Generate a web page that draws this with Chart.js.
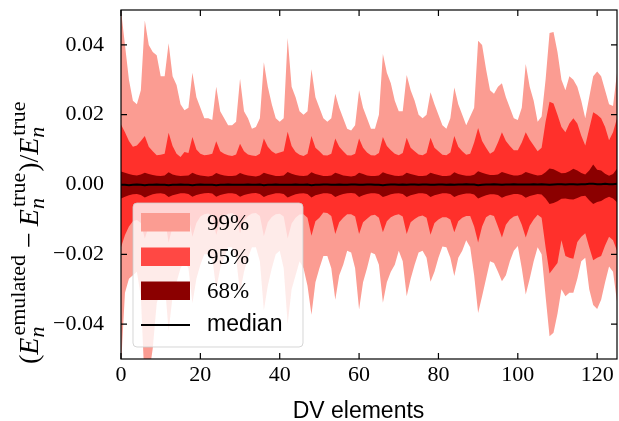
<!DOCTYPE html>
<html>
<head>
<meta charset="utf-8">
<script src="https://cdn.jsdelivr.net/npm/chart.js@4.4.0/dist/chart.umd.min.js"></script>
<style>
  html, body { margin: 0; padding: 0; background: #fff; }
  #wrap { position: relative; width: 619px; height: 421px; }
</style>
</head>
<body>
<div id="wrap"><canvas id="chart" width="619" height="421"></canvas></div>
<script>
// DV element index (x axis)
const dvIndex = Array.from({ length: 126 }, (_, i) => i);

const xTicks = [0, 20, 40, 60, 80, 100, 120];
const yTicks = [-0.04, -0.02, 0, 0.02, 0.04];

// upper / lower edges of the 99%, 95%, 68% bands and the median
const up99 = [
  0.050, 0.040, 0.030, 0.024, 0.023, 0.027, 0.047, 0.040, 0.038, 0.037, 0.031, 0.031,
  0.0405, 0.031, 0.0285, 0.023, 0.0213, 0.022,
  0.032, 0.025, 0.022, 0.019, 0.019, 0.0185,
  0.028, 0.021, 0.019, 0.017, 0.017, 0.018,
  0.0303, 0.021, 0.019, 0.016, 0.0165, 0.019,
  0.035, 0.028, 0.023, 0.019, 0.018, 0.019,
  0.042, 0.028, 0.025, 0.021, 0.020, 0.021,
  0.033, 0.025, 0.022, 0.019, 0.018, 0.019,
  0.026, 0.022, 0.019, 0.016, 0.0155, 0.017,
  0.027, 0.022, 0.019, 0.016, 0.016, 0.020,
  0.0374, 0.032, 0.029, 0.024, 0.021, 0.021,
  0.0314, 0.027, 0.024, 0.020, 0.019, 0.020,
  0.0264, 0.023, 0.020, 0.017, 0.016, 0.019,
  0.0278, 0.023, 0.020, 0.017, 0.0195, 0.022,
  0.0412, 0.040, 0.033, 0.027, 0.026, 0.028,
  0.029, 0.025, 0.022, 0.019, 0.0185, 0.022,
  0.0345, 0.028, 0.024, 0.018, 0.0195, 0.030,
  0.0434, 0.0437, 0.038, 0.030, 0.027, 0.031,
  0.030, 0.028, 0.024, 0.019, 0.025, 0.031,
  0.0324, 0.031, 0.027, 0.023, 0.0225, 0.032
];
const up95 = [
  0.0172, 0.0150, 0.0125, 0.0108, 0.0112, 0.0125, 0.0139, 0.0108, 0.0095, 0.0084, 0.0085, 0.0088,
  0.0148, 0.0110, 0.0088, 0.0079, 0.0093, 0.0090,
  0.0136, 0.0100, 0.0088, 0.0084, 0.0085, 0.0088,
  0.0124, 0.0095, 0.0088, 0.0084, 0.0082, 0.0086,
  0.0117, 0.0095, 0.0086, 0.0083, 0.0082, 0.0088,
  0.0132, 0.0108, 0.0095, 0.0088, 0.0092, 0.0095,
  0.0151, 0.0110, 0.0093, 0.0085, 0.0082, 0.0088,
  0.0139, 0.0105, 0.0095, 0.0084, 0.0083, 0.0088,
  0.0132, 0.0108, 0.0095, 0.0084, 0.0083, 0.0088,
  0.0132, 0.0105, 0.0092, 0.0084, 0.0083, 0.0090,
  0.0136, 0.0110, 0.0098, 0.0088, 0.0084, 0.0090,
  0.0134, 0.0105, 0.0095, 0.0086, 0.0084, 0.0090,
  0.0134, 0.0105, 0.0095, 0.0085, 0.0084, 0.0092,
  0.0139, 0.0108, 0.0095, 0.0085, 0.0088, 0.0120,
  0.0162, 0.0125, 0.0105, 0.0088, 0.0095, 0.0120,
  0.0150, 0.0125, 0.0110, 0.0098, 0.0098, 0.0120,
  0.0150, 0.0128, 0.0112, 0.0095, 0.0105, 0.0180,
  0.0237, 0.0232, 0.0200, 0.0165, 0.0150, 0.0175,
  0.0190, 0.0175, 0.0140, 0.0112, 0.0160, 0.0207,
  0.0200, 0.0190, 0.0165, 0.0127, 0.0150, 0.0190
];
const up68 = [
  0.0037, 0.0034, 0.0030, 0.0027, 0.0026, 0.0029, 0.0034, 0.0030, 0.0027, 0.0025, 0.0024, 0.0026,
  0.0035, 0.0029, 0.0026, 0.0024, 0.0025, 0.0026,
  0.0034, 0.0029, 0.0026, 0.0024, 0.0023, 0.0025,
  0.0033, 0.0029, 0.0026, 0.0024, 0.0024, 0.0026,
  0.0033, 0.0029, 0.0026, 0.0024, 0.0023, 0.0026,
  0.0034, 0.0030, 0.0027, 0.0024, 0.0024, 0.0026,
  0.0036, 0.0031, 0.0027, 0.0025, 0.0024, 0.0026,
  0.0035, 0.0030, 0.0027, 0.0024, 0.0024, 0.0026,
  0.0034, 0.0030, 0.0026, 0.0024, 0.0023, 0.0025,
  0.0034, 0.0030, 0.0026, 0.0024, 0.0024, 0.0026,
  0.0035, 0.0031, 0.0028, 0.0025, 0.0024, 0.0026,
  0.0034, 0.0030, 0.0027, 0.0024, 0.0024, 0.0026,
  0.0034, 0.0030, 0.0027, 0.0024, 0.0024, 0.0026,
  0.0035, 0.0030, 0.0027, 0.0025, 0.0025, 0.0028,
  0.0038, 0.0034, 0.0030, 0.0027, 0.0027, 0.0029,
  0.0036, 0.0032, 0.0029, 0.0026, 0.0026, 0.0029,
  0.0036, 0.0032, 0.0029, 0.0026, 0.0027, 0.0035,
  0.0046, 0.0044, 0.0038, 0.0032, 0.0033, 0.0038,
  0.0045, 0.0040, 0.0033, 0.0029, 0.0040, 0.0057,
  0.0042, 0.0040, 0.0031, 0.0025, 0.0030, 0.0045
];
const median = [
  -0.0001, -0.0001, -0.0002, -0.0001, 0.0000, -0.0001, -0.0002, -0.0001, -0.0001, 0.0000, -0.0001, -0.0001,
  -0.0002, -0.0001, -0.0001, 0.0000, -0.0001, -0.0001,
  -0.0002, -0.0001, 0.0000, -0.0001, -0.0001, -0.0001,
  -0.0002, -0.0001, -0.0001, 0.0000, -0.0001, -0.0001,
  -0.0001, -0.0001, 0.0000, -0.0001, -0.0001, 0.0000,
  -0.0002, -0.0001, -0.0001, 0.0000, -0.0001, -0.0001,
  -0.0001, -0.0001, 0.0000, -0.0001, -0.0001, 0.0000,
  -0.0002, -0.0001, -0.0001, 0.0000, 0.0000, -0.0001,
  -0.0001, 0.0000, -0.0001, -0.0001, 0.0000, 0.0000,
  -0.0001, -0.0001, 0.0000, 0.0000, -0.0001, -0.0001,
  -0.0002, -0.0001, 0.0000, 0.0000, -0.0001, 0.0000,
  -0.0001, 0.0000, 0.0000, -0.0001, 0.0000, 0.0000,
  -0.0001, -0.0001, 0.0000, 0.0000, -0.0001, 0.0000,
  -0.0001, 0.0000, 0.0000, 0.0001, 0.0000, 0.0000,
  -0.0002, -0.0001, 0.0000, 0.0000, 0.0001, 0.0000,
  -0.0001, 0.0000, 0.0000, 0.0001, 0.0000, 0.0000,
  0.0000, 0.0000, 0.0001, 0.0000, 0.0001, 0.0000,
  -0.0001, 0.0000, 0.0001, 0.0001, 0.0000, 0.0001,
  0.0001, 0.0000, 0.0001, 0.0001, 0.0002, 0.0002,
  0.0001, 0.0001, 0.0002, 0.0001, 0.0001, 0.0002
];
const lo68 = [
  -0.0040, -0.0035, -0.0031, -0.0028, -0.0027, -0.0030, -0.0037, -0.0032, -0.0028, -0.0026, -0.0025, -0.0027,
  -0.0036, -0.0031, -0.0028, -0.0025, -0.0025, -0.0027,
  -0.0035, -0.0030, -0.0027, -0.0025, -0.0024, -0.0026,
  -0.0035, -0.0030, -0.0027, -0.0025, -0.0025, -0.0027,
  -0.0035, -0.0030, -0.0027, -0.0025, -0.0024, -0.0027,
  -0.0036, -0.0031, -0.0028, -0.0025, -0.0025, -0.0027,
  -0.0037, -0.0032, -0.0028, -0.0026, -0.0025, -0.0027,
  -0.0037, -0.0031, -0.0028, -0.0025, -0.0025, -0.0027,
  -0.0036, -0.0031, -0.0027, -0.0025, -0.0024, -0.0026,
  -0.0036, -0.0031, -0.0027, -0.0025, -0.0025, -0.0027,
  -0.0036, -0.0032, -0.0028, -0.0026, -0.0025, -0.0027,
  -0.0036, -0.0031, -0.0028, -0.0025, -0.0025, -0.0027,
  -0.0036, -0.0031, -0.0028, -0.0025, -0.0025, -0.0027,
  -0.0036, -0.0031, -0.0028, -0.0026, -0.0026, -0.0029,
  -0.0040, -0.0035, -0.0031, -0.0028, -0.0028, -0.0030,
  -0.0038, -0.0033, -0.0030, -0.0027, -0.0027, -0.0030,
  -0.0038, -0.0033, -0.0030, -0.0027, -0.0029, -0.0040,
  -0.0056, -0.0053, -0.0048, -0.0041, -0.0040, -0.0042,
  -0.0043, -0.0039, -0.0034, -0.0032, -0.0045, -0.0056,
  -0.0050, -0.0047, -0.0040, -0.0035, -0.0040, -0.0051
];
const lo95 = [
  -0.0180, -0.0145, -0.0120, -0.0105, -0.0102, -0.0110, -0.0155, -0.0120, -0.0100, -0.0092, -0.0088, -0.0095,
  -0.0166, -0.0120, -0.0098, -0.0088, -0.0085, -0.0092,
  -0.0150, -0.0110, -0.0092, -0.0085, -0.0083, -0.0090,
  -0.0145, -0.0105, -0.0090, -0.0084, -0.0082, -0.0090,
  -0.0140, -0.0102, -0.0090, -0.0083, -0.0082, -0.0090,
  -0.0148, -0.0108, -0.0093, -0.0085, -0.0084, -0.0092,
  -0.0155, -0.0112, -0.0095, -0.0086, -0.0085, -0.0095,
  -0.0147, -0.0105, -0.0095, -0.0080, -0.0082, -0.0090,
  -0.0142, -0.0108, -0.0095, -0.0085, -0.0085, -0.0092,
  -0.0142, -0.0108, -0.0098, -0.0089, -0.0087, -0.0095,
  -0.0137, -0.0105, -0.0094, -0.0088, -0.0085, -0.0092,
  -0.0142, -0.0108, -0.0099, -0.0092, -0.0089, -0.0095,
  -0.0144, -0.0110, -0.0100, -0.0094, -0.0094, -0.0100,
  -0.0137, -0.0105, -0.0095, -0.0090, -0.0090, -0.0120,
  -0.0166, -0.0120, -0.0094, -0.0087, -0.0090, -0.0120,
  -0.0152, -0.0115, -0.0100, -0.0092, -0.0089, -0.0115,
  -0.0152, -0.0118, -0.0100, -0.0087, -0.0095, -0.0180,
  -0.0255, -0.0240, -0.0225, -0.0160, -0.0205, -0.0210,
  -0.0213, -0.0165, -0.0150, -0.0140, -0.0180, -0.0217,
  -0.0210, -0.0205, -0.0175, -0.0150, -0.0160, -0.0190
];
const lo99 = [
  -0.052, -0.031, -0.027, -0.026, -0.025, -0.032, -0.058, -0.055, -0.047, -0.034, -0.030, -0.028,
  -0.042, -0.032, -0.028, -0.024, -0.022, -0.024,
  -0.034, -0.027, -0.023, -0.020, -0.020, -0.021,
  -0.030, -0.024, -0.021, -0.018, -0.018, -0.021,
  -0.031, -0.025, -0.021, -0.018, -0.018, -0.022,
  -0.036, -0.029, -0.024, -0.020, -0.019, -0.024,
  -0.040, -0.030, -0.026, -0.022, -0.024, -0.029,
  -0.0373, -0.028, -0.024, -0.0205, -0.0205, -0.024,
  -0.033, -0.026, -0.023, -0.019, -0.0195, -0.024,
  -0.0358, -0.028, -0.024, -0.0195, -0.020, -0.023,
  -0.0339, -0.028, -0.025, -0.023, -0.019, -0.022,
  -0.032, -0.027, -0.023, -0.0195, -0.019, -0.021,
  -0.0279, -0.025, -0.021, -0.0178, -0.018, -0.021,
  -0.0262, -0.021, -0.019, -0.016, -0.018, -0.026,
  -0.0368, -0.032, -0.027, -0.022, -0.0225, -0.025,
  -0.0277, -0.026, -0.022, -0.019, -0.0176, -0.024,
  -0.0315, -0.027, -0.022, -0.018, -0.020, -0.032,
  -0.0435, -0.0425, -0.037, -0.030, -0.032, -0.031,
  -0.031, -0.027, -0.022, -0.021, -0.030, -0.0345,
  -0.0357, -0.033, -0.028, -0.0235, -0.025, -0.0336
];

const c99 = 'rgb(251,156,146)';
const c95 = 'rgb(255,48,43)';
const c95legend = 'rgb(255,72,68)';
const c68 = 'rgb(139,0,0)';

const serif = '"Liberation Serif", "Times New Roman", serif';
const sans = '"Liberation Sans", Arial, sans-serif';

function band(data, target, color) {
  return {
    data: data,
    borderColor: 'transparent',
    borderWidth: 0,
    backgroundColor: color,
    pointRadius: 0,
    tension: 0,
    fill: target === null ? false : { target: target }
  };
}

// frame and inward ticks on all four sides, like matplotlib
const axisFrame = {
  id: 'axisFrame',
  afterDatasetsDraw(chart) {
    const { ctx, chartArea: a, scales: { x, y } } = chart;
    ctx.save();
    ctx.strokeStyle = '#000';
    ctx.lineWidth = 1.2;
    ctx.strokeRect(a.left, a.top, a.right - a.left, a.bottom - a.top);
    ctx.beginPath();
    xTicks.forEach(v => {
      const px = x.getPixelForValue(v);
      ctx.moveTo(px, a.bottom); ctx.lineTo(px, a.bottom - 6);
      ctx.moveTo(px, a.top); ctx.lineTo(px, a.top + 6);
    });
    yTicks.forEach(v => {
      const py = y.getPixelForValue(v);
      ctx.moveTo(a.left, py); ctx.lineTo(a.left + 6, py);
      ctx.moveTo(a.right, py); ctx.lineTo(a.right - 6, py);
    });
    ctx.stroke();
    ctx.restore();
  }
};

function drawYTitle(ctx) {
  const big = 28, small = 22;
  const fUp = `${big}px ${serif}`;
  const fIt = `italic ${big}px ${serif}`;
  const fSm = `${small}px ${serif}`;
  const fSmIt = `italic ${small}px ${serif}`;
  ctx.save();
  ctx.translate(38, 364);
  ctx.rotate(-Math.PI / 2);
  ctx.fillStyle = '#000';
  ctx.textBaseline = 'alphabetic';
  ctx.textAlign = 'left';
  let x = 0;
  const put = (t, f, dy) => {
    ctx.font = f;
    ctx.fillText(t, x, dy || 0);
    return ctx.measureText(t).width;
  };
  const energy = (sup) => {
    x += put('E', fIt);
    const x0 = x;
    const wSub = put('n', fSmIt, 6);
    x = x0 + 2;
    const wSup = put(sup, fSm, -13);
    x = x0 + Math.max(wSub, wSup + 2) + 1;
  };
  x += put('(', fUp);
  energy('emulated');
  x += 6;
  x += put('\u2212', fUp);
  x += 6;
  energy('true');
  x += put(')', fUp);
  x += put('/', fUp);
  energy('true');
  ctx.restore();
}

const legendBox = {
  id: 'legendBox',
  afterDraw(chart) {
    const ctx = chart.ctx;
    ctx.save();
    // frame
    ctx.beginPath();
    ctx.roundRect(133, 203, 170, 144, 4);
    ctx.fillStyle = 'rgba(255,255,255,0.8)';
    ctx.fill();
    ctx.strokeStyle = 'rgba(204,204,204,0.8)';
    ctx.lineWidth = 1;
    ctx.stroke();
    // handles
    ctx.fillStyle = c99; ctx.fillRect(141, 213, 49, 18.5);
    ctx.fillStyle = c95legend; ctx.fillRect(141, 247.5, 49, 18.5);
    ctx.fillStyle = c68; ctx.fillRect(141, 281.5, 49, 18.5);
    ctx.strokeStyle = '#000'; ctx.lineWidth = 2;
    ctx.beginPath(); ctx.moveTo(141, 325); ctx.lineTo(190, 325); ctx.stroke();
    // labels
    ctx.fillStyle = '#000';
    ctx.textBaseline = 'alphabetic';
    ctx.textAlign = 'left';
    ctx.font = `23px ${serif}`;
    ctx.fillText('99%', 207, 229.5);
    ctx.fillText('95%', 207, 264);
    ctx.fillText('68%', 207, 297.5);
    ctx.font = `23px ${sans}`;
    ctx.fillText('median', 207, 330.5);
    // axis titles
    ctx.textAlign = 'center';
    ctx.fillText('DV elements', 358.5, 418);
    ctx.restore();
    drawYTitle(ctx);
  }
};

new Chart(document.getElementById('chart'), {
  type: 'line',
  data: {
    labels: dvIndex,
    datasets: [
      { data: median, borderColor: '#000', borderWidth: 2, pointRadius: 0, tension: 0, fill: false },
      band(up68, 2, c68),
      band(lo68, null, c68),
      band(up95, 4, c95),
      band(lo95, null, c95),
      band(up99, 6, c99),
      band(lo99, null, c99)
    ]
  },
  options: {
    responsive: false,
    animation: false,
    layout: { padding: { top: 10, right: 2, left: 0, bottom: 0 } },
    plugins: { legend: { display: false }, tooltip: { enabled: false } },
    scales: {
      x: {
        type: 'linear',
        min: 0,
        max: 125,
        afterBuildTicks: s => { s.ticks = xTicks.map(v => ({ value: v })); },
        afterFit: s => { s.height = 62; s.paddingLeft = 0; s.paddingRight = 0; },
        grid: { display: false, drawTicks: false },
        border: { display: false },
        ticks: { color: '#000', padding: 3, maxRotation: 0, font: { family: serif, size: 22 } }
      },
      y: {
        min: -0.05,
        max: 0.05,
        afterBuildTicks: s => { s.ticks = yTicks.map(v => ({ value: v })); },
        afterFit: s => { s.width = 121; s.paddingTop = 0; s.paddingBottom = 0; },
        grid: { display: false, drawTicks: false },
        border: { display: false },
        ticks: {
          color: '#000',
          padding: 17,
          font: { family: serif, size: 22 },
          callback: v => (v < 0 ? '\u2212' : '') + Math.abs(v).toFixed(2)
        }
      }
    }
  },
  plugins: [axisFrame, legendBox]
});
</script>
</body>
</html>
